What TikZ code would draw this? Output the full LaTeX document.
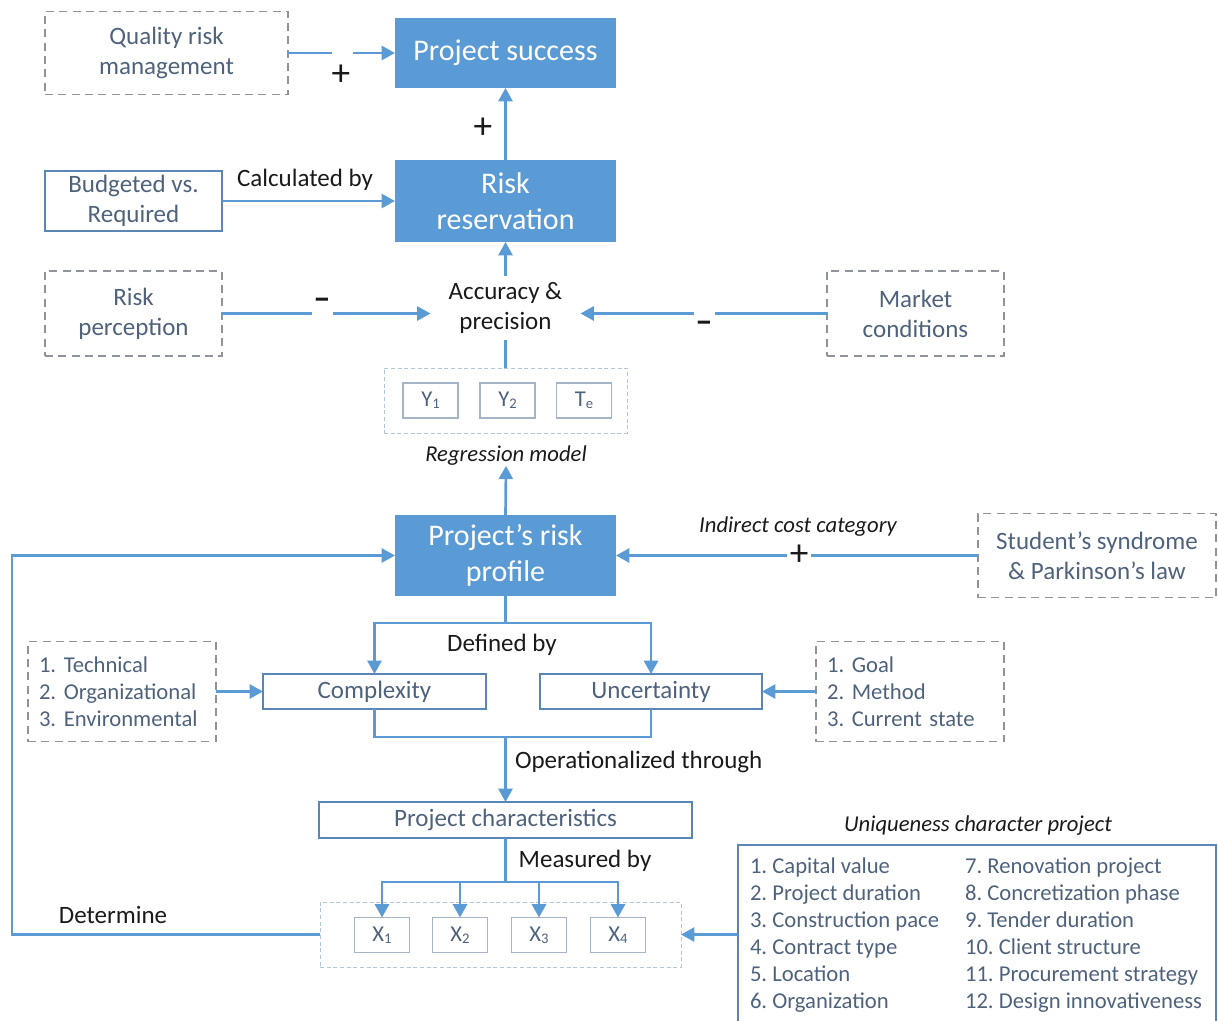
\documentclass[tikz,border=0pt]{standalone}
\usepackage{fontspec}
\setmainfont{Carlito}
\usetikzlibrary{arrows.meta}
\definecolor{rbblue}{HTML}{5B9BD5}
\definecolor{rbtext}{HTML}{4F627C}
\definecolor{rbframe}{HTML}{5A86B5}
\definecolor{rbdash}{HTML}{8E949A}
\definecolor{rblight}{HTML}{B2C6D6}
\definecolor{rbvar}{HTML}{A3B5C7}
\definecolor{rbink}{HTML}{1A1A1A}
\newcommand{\vsub}[1]{\raisebox{-0.1em}{\fontsize{11}{11}\selectfont #1}}
\frenchspacing

\begin{document}
\begin{tikzpicture}[
  x=0.75pt, y=-0.75pt,
  every node/.style={inner sep=0pt, outer sep=0pt},
  hub/.style={fill=rbblue, text=white, minimum width=221*0.75pt, align=center,
              font=\fontsize{22.5}{27}\selectfont},
  solidbox/.style={draw=rbframe, line width=1.3pt, text=rbtext, align=center,
                   font=\fontsize{18.75}{22.5}\selectfont},
  dashbox/.style={draw=rbdash, line width=1.3pt, dash pattern=on 6pt off 4pt,
                  text=rbtext, align=center, font=\fontsize{18.75}{22.5}\selectfont},
  listbox/.style={dashbox, align=left, text width=166*0.75pt, inner xsep=11*0.75pt,
                  minimum height=100*0.75pt, font=\fontsize{17}{20.25}\selectfont},
  group/.style={draw=rblight, line width=0.7pt, dash pattern=on 3pt off 2pt},
  var/.style={draw=rbvar, line width=1pt, text=rbtext, minimum width=55*0.75pt,
              minimum height=35*0.75pt, font=\fontsize{17}{20}\selectfont},
  lbl/.style={text=rbink, align=center, font=\fontsize{18.75}{22.5}\selectfont},
  ilbl/.style={text=rbink, font=\fontsize{17}{20}\selectfont\itshape},
  item/.style={text=rbtext, anchor=base west, font=\fontsize{17}{20}\selectfont},
  sign/.style={text=rbink, font=\fontsize{28}{28}\selectfont},
  wire/.style={draw=rbblue, line width=2pt},
  flow/.style={wire, -{Triangle[length=10pt,width=10.5pt]}},
  gap/.style={fill=white, minimum width=21*0.75pt, minimum height=5pt},
]
\useasboundingbox (0,0) rectangle (1218,1021);
\clip (0,0) rectangle (1218,1021);

\def\XM{505.5}

% ---------- top: success and reservation ----------
\node[dashbox, minimum width=243*0.75pt, minimum height=83*0.75pt] (qrm) at (166.5,53)
  {Quality risk\\management};
\node[hub, minimum height=70*0.75pt] (succ) at (\XM,53) {Project success};
\node[hub, minimum height=82*0.75pt] (rres) at (\XM,201) {Risk\\reservation};
\node[solidbox, minimum width=177*0.75pt, minimum height=60*0.75pt] (budg) at (133.5,201)
  {Budgeted vs.\\Required};

\draw[flow] (qrm.east) -- node[gap, pos=0.505]{} (succ.west);
\node[sign] (plusa) at (341,75) {+};
\draw[flow] (rres.north) -- (succ.south);
\node[sign] (plusb) at (483,128) {+};
\draw[flow] (budg.east) -- (rres.west);
\node[lbl] (calc) at (305,180) {Calculated by};

% ---------- accuracy & precision ----------
\node[lbl, minimum width=150*0.75pt, minimum height=64*0.75pt] (acc) at (\XM,307.5)
  {Accuracy \&\\precision};
\node[dashbox, minimum width=177*0.75pt, minimum height=85*0.75pt] (rperc) at (133.5,313.5)
  {Risk\\perception};
\node[dashbox, minimum width=177*0.75pt, minimum height=85*0.75pt] (mkt) at (915.5,313.5)
  {Market\\conditions};
\draw[flow] (acc.north) -- (rres.south);
\draw[flow] (rperc.east) -- node[gap, pos=0.482]{} (acc.west |- rperc.east);
\node[sign, font=\fontsize{26}{26}\selectfont\bfseries] (minl) at (322,304) {–};
\draw[flow] (mkt.west) -- node[gap, pos=0.497]{} (acc.east |- mkt.west);
\node[sign, font=\fontsize{26}{26}\selectfont\bfseries] (minr) at (704,327) {–};

% ---------- regression model ----------
\node[group, minimum width=243*0.75pt, minimum height=65*0.75pt] (reg) at (\XM,400.5) {};
\node[var] (y1) at (430.5,400.5) {Y\vsub{1}};
\node[var] (y2) at (507.5,400.5) {Y\vsub{2}};
\node[var] (te) at (584,400.5) {T\vsub{e}};
\draw[wire] (reg.north) -- (acc.south);
\node[ilbl] (regl) at (506,456) {Regression model};

% ---------- risk profile ----------
\node[hub, minimum height=81*0.75pt] (prp) at (\XM,555.5) {Project’s risk\\profile};
\draw[flow] (prp.north) -- (regl.south);
\node[dashbox, minimum width=238*0.75pt, minimum height=84*0.75pt] (stud) at (1097,555.5)
  {Student’s syndrome\\\& Parkinson’s law};
\draw[flow] (stud.west) -- node[sign, fill=white, inner xsep=2pt, pos=0.494] (plusc) {+} (prp.east);
\node[ilbl] (icc) at (798,527) {Indirect cost category};

% ---------- complexity and uncertainty ----------
\node[solidbox, minimum width=223*0.75pt, minimum height=35*0.75pt] (cplx) at (374.5,691.5) {Complexity};
\node[solidbox, minimum width=222*0.75pt, minimum height=35*0.75pt] (unc) at (651,691.5) {Uncertainty};
\node[listbox] (tech) at (122,691.5) {1. Technical\\2. Organizational\\3. Environmental};
\node[listbox] (goal) at (910,691.5) {1. Goal\\2. Method\\3. Current state};

\draw[wire] (prp.south) -- ++(0,27) coordinate (dsplit);
\draw[flow] (dsplit) -| (cplx.north);
\draw[flow] (dsplit) -| (unc.north);
\node[lbl] (defl) at (502,645) {Defined by};
\draw[flow] (tech.east) -- (cplx.west);
\draw[flow] (goal.west) -- (unc.east);

% ---------- characteristics ----------
\node[solidbox, minimum width=373*0.75pt, minimum height=36*0.75pt] (pc) at (\XM,820)
  {Project characteristics};
\draw[wire] (cplx.south) -- ++(0,28) coordinate (omerge) -| (unc.south);
\draw[flow] (pc.north |- omerge) -- (pc.north);
\node[lbl, anchor=west] (opl) at (515,762) {Operationalized through};

\node[group, minimum width=361*0.75pt, minimum height=65*0.75pt] (xbox) at (500.5,934.5) {};
\foreach \i/\x in {1/382, 2/460, 3/539, 4/618}{
  \node[var] (x\i) at (\x,935) {X\vsub{\i}};
}
\draw[wire] (pc.south) -- ++(0,44) coordinate (msplit);
\foreach \n in {x1,x2,x3,x4}{\draw[flow] (msplit) -| (\n.north);}
\node[lbl] (mesl) at (585,861) {Measured by};

% feedback loop
\draw[flow] (xbox.west) -- ++(-308,0) |- (prp.west);
\node[lbl] (detl) at (113,915) {Determine};

% ---------- uniqueness ----------
\node[solidbox, minimum width=478*0.75pt, minimum height=190*0.75pt] (uniq) at (977,940) {};
\node[ilbl] (uniql) at (978,826) {Uniqueness character project};
\draw[flow] (uniq.west |- xbox.east) -- (xbox.east);
\foreach \i/\t in {1/Capital value, 2/Project duration, 3/Construction pace,
                   4/Contract type, 5/Location, 6/Organization}{
  \node[item] (ua\i) at (750,{873+27*(\i-1)}) {\i. \t};
}
\foreach \i/\t in {7/Renovation project, 8/Concretization phase, 9/Tender duration,
                   10/Client structure, 11/Procurement strategy, 12/Design innovativeness}{
  \node[item] (ub\i) at (965,{873+27*(\i-7)}) {\i. \t};
}

\end{tikzpicture}
\end{document}
